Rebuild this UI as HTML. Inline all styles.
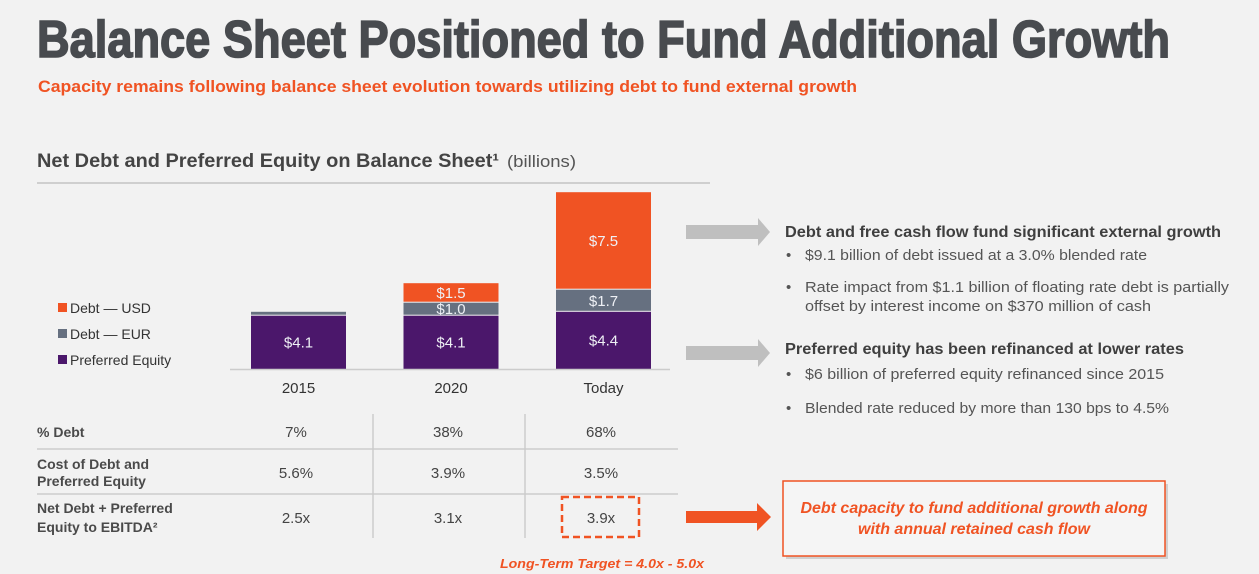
<!DOCTYPE html>
<html><head><meta charset="utf-8">
<style>
html,body{margin:0;padding:0;background:#f2f2f2;}
svg{display:block;font-family:"Liberation Sans",sans-serif;}
</style></head>
<body>
<svg id="chart" width="1259" height="574" viewBox="0 0 1259 574">
<rect width="1259" height="574" fill="#f2f2f2"/>
<text x="37" y="57" font-size="52" font-weight="bold" fill="#484b4f" stroke="#484b4f" stroke-width="1.6" textLength="1133" lengthAdjust="spacingAndGlyphs">Balance Sheet Positioned to Fund Additional Growth</text>
<text x="38" y="92" font-size="17" font-weight="bold" fill="#f05323" textLength="819" lengthAdjust="spacingAndGlyphs">Capacity remains following balance sheet evolution towards utilizing debt to fund external growth</text>
<text x="37" y="167" font-size="19" font-weight="bold" fill="#444" textLength="462" lengthAdjust="spacingAndGlyphs">Net Debt and Preferred Equity on Balance Sheet¹</text>
<text x="507" y="167" font-size="17" fill="#555" textLength="69" lengthAdjust="spacingAndGlyphs">(billions)</text>
<line x1="37" y1="183" x2="710" y2="183" stroke="#cfcfcf" stroke-width="2"/>

<g id="bars"></g>
<line x1="230" y1="369.5" x2="670" y2="369.5" stroke="#cccccc" stroke-width="1.5"/>

<g font-size="14" fill="#333">
<rect x="58" y="303" width="9" height="9" fill="#f05323"/>
<text x="70" y="313">Debt — USD</text>
<rect x="58" y="329" width="9" height="9" fill="#667080"/>
<text x="70" y="339">Debt — EUR</text>
<rect x="58" y="355" width="9" height="9" fill="#4b176b"/>
<text x="70" y="365">Preferred Equity</text>
</g>

<g font-size="14.5" fill="#444">
<line x1="373" y1="414" x2="373" y2="538" stroke="#ccc" stroke-width="1.5"/>
<line x1="525" y1="414" x2="525" y2="538" stroke="#ccc" stroke-width="1.5"/>
<line x1="37" y1="449" x2="678" y2="449" stroke="#ccc" stroke-width="1.5"/>
<line x1="37" y1="494" x2="678" y2="494" stroke="#ccc" stroke-width="1.5"/>
<g font-weight="bold" font-size="14" fill="#4a4a4a">
<text x="37" y="437">% Debt</text>
<text x="37" y="469">Cost of Debt and</text>
<text x="37" y="486">Preferred Equity</text>
<text x="37" y="513">Net Debt + Preferred</text>
<text x="37" y="532">Equity to EBITDA²</text>
</g>
<g text-anchor="middle" font-size="15">
<text x="296" y="437">7%</text>
<text x="448" y="437">38%</text>
<text x="601" y="437">68%</text>
<text x="296" y="478">5.6%</text>
<text x="448" y="478">3.9%</text>
<text x="601" y="478">3.5%</text>
<text x="296" y="523">2.5x</text>
<text x="448" y="523">3.1x</text>
<text x="601" y="523">3.9x</text>
</g>
<rect x="562" y="497" width="77" height="40" fill="none" stroke="#f05323" stroke-width="2.5" stroke-dasharray="7,4"/>
<text x="500" y="568" font-size="13" font-weight="bold" font-style="italic" fill="#f05323" textLength="204" lengthAdjust="spacingAndGlyphs">Long-Term Target = 4.0x - 5.0x</text>
</g>

<g fill="#444">
<polygon points="686,225 758,225 758,218 770,232 758,246 758,239 686,239" fill="#bfbfbf"/>
<text x="785" y="237" font-size="16" font-weight="bold" fill="#3f3f3f" textLength="436" lengthAdjust="spacingAndGlyphs">Debt and free cash flow fund significant external growth</text>
<g font-size="15" fill="#555">
<text x="786" y="260">•</text>
<text x="805" y="260" textLength="342" lengthAdjust="spacingAndGlyphs">$9.1 billion of debt issued at a 3.0% blended rate</text>
<text x="786" y="292">•</text>
<text x="805" y="292" textLength="424" lengthAdjust="spacingAndGlyphs">Rate impact from $1.1 billion of floating rate debt is partially</text>
<text x="805" y="311" textLength="346" lengthAdjust="spacingAndGlyphs">offset by interest income on $370 million of cash</text>
</g>
<polygon points="686,346 758,346 758,339 770,353 758,367 758,360 686,360" fill="#bfbfbf"/>
<text x="785" y="354" font-size="16" font-weight="bold" fill="#3f3f3f" textLength="399" lengthAdjust="spacingAndGlyphs">Preferred equity has been refinanced at lower rates</text>
<g font-size="15" fill="#555">
<text x="786" y="379">•</text>
<text x="805" y="379" textLength="359" lengthAdjust="spacingAndGlyphs">$6 billion of preferred equity refinanced since 2015</text>
<text x="786" y="413">•</text>
<text x="805" y="413" textLength="364" lengthAdjust="spacingAndGlyphs">Blended rate reduced by more than 130 bps to 4.5%</text>
</g>
<polygon points="686,511 757,511 757,503 771,517 757,531 757,523 686,523" fill="#f05323"/>
<rect x="786" y="484" width="382" height="75" fill="#d0d0d0"/>
<rect x="783" y="481" width="382" height="75" fill="#f5f5f5" stroke="#f05323" stroke-width="1.5"/>
<text x="974" y="513" text-anchor="middle" font-size="16" font-weight="bold" font-style="italic" fill="#f05323" textLength="347" lengthAdjust="spacingAndGlyphs">Debt capacity to fund additional growth along</text>
<text x="974" y="534" text-anchor="middle" font-size="16" font-weight="bold" font-style="italic" fill="#f05323" textLength="232" lengthAdjust="spacingAndGlyphs">with annual retained cash flow</text>
</g>
</svg>
<script>
const categories = ["2015", "2020", "Today"];
const preferred = [4.1, 4.1, 4.4];
const debtEur = [0.3, 1.0, 1.7];
const debtUsd = [0, 1.5, 7.5];
const eurLabels = ["", "$1.0", "$1.7"];

const NS = "http://www.w3.org/2000/svg";
const g = document.getElementById("bars");
const baseY = 369, pxPerUnit = 13.0, barW = 95, x0 = 251, step = 152.5;
function xPos(i){ return x0 + i*step; }
function yPos(v){ return baseY - v*pxPerUnit; }
function rect(x,y,w,h,fill,name){
  const r = document.createElementNS(NS,"rect");
  r.setAttribute("x",x); r.setAttribute("y",y); r.setAttribute("width",w); r.setAttribute("height",h);
  r.setAttribute("fill",fill);
  
  
  g.appendChild(r);
}
function label(x,y,t,name,fill,size){
  const e = document.createElementNS(NS,"text");
  e.setAttribute("x",x); e.setAttribute("y",y); e.setAttribute("text-anchor","middle");
  e.setAttribute("font-size",size||15); e.setAttribute("fill",fill||"#eef0f5");
  e.textContent = t;
  
  
  g.appendChild(e);
}
categories.forEach((c,i)=>{
  const x = xPos(i), cx = x + barW/2;
  const p = preferred[i], e = debtEur[i], u = debtUsd[i];
  rect(x, yPos(p), barW, p*pxPerUnit, "#4b176b", "bar-preferred-"+c);
  label(cx, yPos(p/2)+5, "$"+p.toFixed(1), "bar-label-preferred-"+c);
  if (e>0){
    rect(x, yPos(p+e), barW, e*pxPerUnit-1, "#667080", "bar-debt-eur-"+c);
    if (eurLabels[i]) label(cx, yPos(p+e/2)+5, eurLabels[i], "bar-label-eur-"+c);
  }
  if (u>0){
    rect(x, yPos(p+e+u), barW, u*pxPerUnit-1, "#f05323", "bar-debt-usd-"+c);
    label(cx, yPos(p+e+u/2)+5, "$"+u.toFixed(1), "bar-label-usd-"+c);
  }
  label(cx, 393, c, "x-label-"+c, "#333", 15);
});
</script>
</body></html>
